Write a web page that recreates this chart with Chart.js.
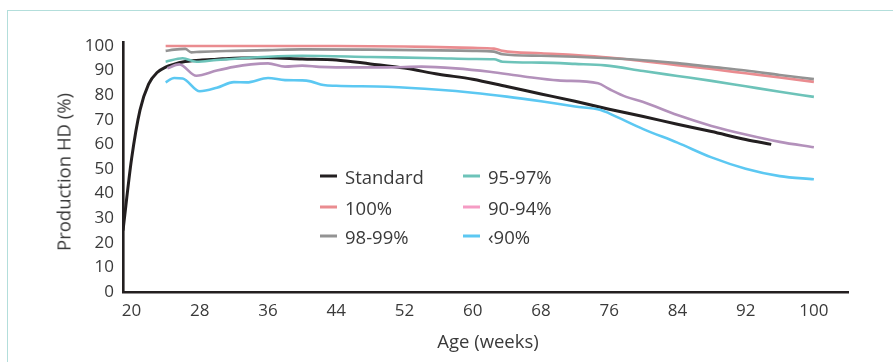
<!DOCTYPE html>
<html>
<head>
<meta charset="utf-8">
<script src="https://cdn.jsdelivr.net/npm/chart.js@4"></script>
<style>
  html, body { margin: 0; padding: 0; background: #fff; }
  #wrap { position: relative; width: 893px; height: 362px; overflow: hidden; font-family: "Open Sans", sans-serif; font-weight: 400; color: #3a3a3a; }
  #frame { position: absolute; left: 7px; top: 10px; width: 1000px; height: 400px; border-left: 1.5px solid #b3dedb; border-top: 1.5px solid #b3dedb; }
  canvas { position: absolute; left: 0; top: 0; }
  .txt { position: absolute; font-size: 18.5px; white-space: nowrap; }
  #ytitle { left: 63px; top: 172px; transform: translate(-50%, -50%) rotate(-90deg); }
  #xtitle { left: 488px; top: 340px; transform: translate(-50%, -50%); }
  .leg { position: absolute; font-size: 18.5px; white-space: nowrap; display: flex; align-items: center; transform: translateY(-50%); }
  .leg i { display: inline-block; width: 17px; height: 3px; margin-right: 8px; }
</style>
</head>
<body>
<div id="wrap">
  <div id="frame"></div>
  <canvas id="c" width="893" height="362"></canvas>
  <div class="txt" id="ytitle">Production HD (%)</div>
  <div class="txt" id="xtitle">Age (weeks)</div>
  <div id="legend"></div>
</div>
<script>
// ---- Data ----
const seriesNames = ["Standard", "100%", "98-99%", "95-97%", "90-94%", "<90%"];
const xTicks = [20, 28, 36, 44, 52, 60, 68, 76, 84, 92, 100];
const yTicks = [0, 10, 20, 30, 40, 50, 60, 70, 80, 90, 100];

const standardWeeks = [19, 20, 21, 22, 23, 24, 25, 26, 28, 30, 32, 36, 40, 44, 48, 52, 56, 60, 64, 68, 72, 76, 80, 84, 88, 92, 95];
const standardValues = [25, 54, 74, 84.5, 89.2, 91.4, 92.6, 93.5, 94.2, 94.6, 95, 95.2, 94.7, 94.3, 92.7, 91, 88.5, 86.5, 83.5, 80.5, 77.5, 74.3, 71.3, 68.2, 65.2, 62, 60];

const p100Weeks = [24, 28, 36, 44, 52, 56, 60, 62.5, 63.5, 68, 72, 76, 80, 84, 88, 92, 96, 100];
const p100Values = [100, 100, 100, 100, 99.8, 99.5, 99.2, 98.9, 98, 97, 96.3, 95.3, 93.8, 92.2, 90.6, 88.9, 87.2, 85.4];

const p9899Weeks = [24, 25, 26.3, 27, 28, 32, 36, 40, 48, 56, 60, 62.5, 63.5, 68, 72, 76, 80, 84, 88, 92, 96, 100];
const p9899Values = [98, 98.5, 98.8, 97.4, 97.6, 98, 98.3, 98.6, 98.5, 98.2, 98, 97.7, 96.6, 96, 95.6, 95, 94.2, 93, 91.5, 90, 88.2, 86.5];

const p9597Weeks = [24, 26, 27.6, 30, 36, 40, 48, 56, 60, 62.5, 63.5, 68, 72, 75.5, 80, 84, 88, 92, 96, 100];
const p9597Values = [93.6, 95, 93.6, 94.3, 95.6, 96, 95.5, 95, 94.7, 94.6, 93.6, 93.2, 92.7, 92.1, 89.8, 87.8, 85.8, 83.6, 81.4, 79.3];

const p9094Weeks = [24.2, 25.6, 27.6, 30, 32, 34, 36, 38, 40, 42, 44, 50, 54, 58, 62, 66, 70, 74.7, 76, 78, 80, 84, 88, 92, 96, 100];
const p9094Values = [90.9, 92.5, 87.9, 90, 91.5, 92.5, 92.9, 91.6, 92, 91.5, 91.3, 91.3, 91.6, 90.9, 89.5, 87.6, 86, 84.8, 82.5, 79.3, 77.2, 71.9, 67.5, 64, 61, 58.8];

const p90Weeks = [24, 25, 26, 28, 30, 32, 33.5, 36, 38, 40, 41, 42.5, 44, 50, 56, 60, 64, 68, 72, 75, 76, 80, 84, 88, 92, 96, 100];
const p90Values = [85.2, 87, 86.8, 81.6, 83, 85.3, 85.2, 87, 86.1, 86, 85.6, 84.1, 83.8, 83.4, 82.2, 81, 79.4, 77.5, 75.4, 74, 72.6, 66.2, 60.7, 54.7, 50.1, 47.1, 45.8];

const lineColors = ["#231f20", "#ea8c90", "#939393", "#6dc3b9", "#b391bb", "#5cc8f2"];
const legendColors = ["#231f20", "#ea8c90", "#939393", "#6dc3b9", "#f59cc4", "#5cc8f2"];
const lineWidths = [3, 2.6, 2.6, 2.6, 2.6, 2.6];

// ---- Build ----
const weekSets = [standardWeeks, p100Weeks, p9899Weeks, p9597Weeks, p9094Weeks, p90Weeks];
const valueSets = [standardValues, p100Values, p9899Values, p9597Values, p9094Values, p90Values];
const drawOrder = [5, 4, 3, 2, 1, 0];

const datasets = drawOrder.map(i => ({
  label: seriesNames[i],
  data: weekSets[i].map((w, k) => ({ x: w, y: valueSets[i][k] })),
  borderColor: lineColors[i],
  borderWidth: lineWidths[i],
  pointRadius: 0,
  fill: false,
  cubicInterpolationMode: 'monotone',
  borderCapStyle: 'butt'
}));

const FONT = { family: "'Open Sans', sans-serif", size: 17, weight: 400 };

new Chart(document.getElementById('c'), {
  type: 'line',
  data: { datasets },
  options: {
    responsive: false,
    animation: false,
    devicePixelRatio: 1,
    layout: { padding: { left: 0, right: 45, top: 42, bottom: 0 } },
    plugins: { legend: { display: false }, tooltip: { enabled: false } },
    scales: {
      x: {
        type: 'linear', min: 19, max: 104,
        afterBuildTicks: s => { s.ticks = xTicks.map(v => ({ value: v })); },
        afterFit: s => { s.height = 70; },
        grid: { display: false, drawTicks: false },
        border: { display: true, color: '#231f20', width: 2.6 },
        ticks: { color: '#3a3a3a', font: FONT, padding: 9, maxRotation: 0, autoSkip: false }
      },
      y: {
        type: 'linear', min: 0, max: 101.6,
        afterBuildTicks: s => { s.ticks = yTicks.map(v => ({ value: v })); },
        afterFit: s => { s.width = 123; },
        grid: { display: false, drawTicks: false },
        border: { display: true, color: '#231f20', width: 2.6 },
        ticks: { color: '#3a3a3a', font: FONT, padding: 9, autoSkip: false }
      }
    }
  }
});

// ---- HTML legend (two columns, three rows) ----
const legPos = [
  { x: 320, y: 176 }, { x: 320, y: 207 }, { x: 320, y: 236 },
  { x: 463, y: 176 }, { x: 463, y: 207 }, { x: 463, y: 236 }
];
const legOrder = [0, 1, 2, 3, 4, 5];
const legend = document.getElementById('legend');
legOrder.forEach((i, k) => {
  const d = document.createElement('div');
  d.className = 'leg';
  d.style.left = legPos[k].x + 'px';
  d.style.top = legPos[k].y + 'px';
  const sw = document.createElement('i');
  sw.style.background = legendColors[i];
  const t = document.createElement('span');
  t.textContent = seriesNames[i].replace('<', '‹');
  d.appendChild(sw); d.appendChild(t);
  legend.appendChild(d);
});
</script>
</body>
</html>
